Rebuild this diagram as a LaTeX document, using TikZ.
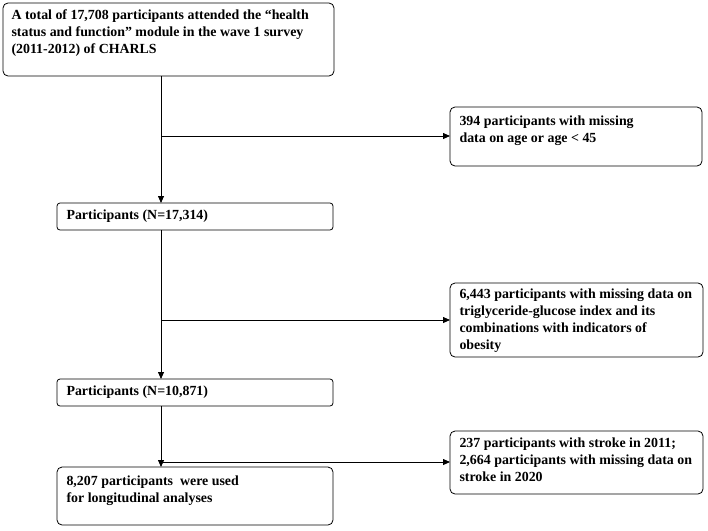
\documentclass[tikz,border=0pt]{standalone}
\usepackage{fontspec}
\setmainfont{Liberation Serif}
\usetikzlibrary{arrows.meta}
\begin{document}
\begin{tikzpicture}[x=1pt,y=-1pt,
  txt/.style={anchor=north west,align=left,font=\fontsize{13.9}{17}\selectfont\bfseries},
  bx/.style={thick,rounded corners=5pt},
  arr/.style={thick,-{Triangle[length=7pt,width=6pt]}}]
\useasboundingbox (0,0) rectangle (708,530);
\draw[bx] (3,3) rectangle (334,76);
\node[txt] (a) at (8,6) {A total of 17,708 participants attended the ``health\\status and function'' module in the wave 1 survey\\(2011-2012) of CHARLS};
\coordinate (A) at (161,76);
\draw[bx] (450,107) rectangle (702,166);
\node[txt] (b) at (456,112) {394 participants with missing\\data on age or age < 45};
\draw[bx,rounded corners=3pt] (57,203) rectangle (333,230);
\node[txt,anchor=west] (c) at (63,216.5) {Participants (N=17,314)};
\draw[bx] (450,283) rectangle (703,357);
\node[txt] (d) at (456,285) {6,443 participants with missing data on\\triglyceride-glucose index and its\\combinations with indicators of\\obesity};
\draw[bx,rounded corners=3pt] (57,379) rectangle (333,406);
\node[txt,anchor=west] (e) at (63,392.5) {Participants (N=10,871)};
\draw[bx] (450,431) rectangle (703,494);
\node[txt] (f) at (456,434) {237 participants with stroke in 2011;\\2,664 participants with missing data on\\stroke in 2020};
\draw[bx] (57,467) rectangle (333,525);
\node[txt] (g) at (63,472) {8,207 participants\ \ were used\\for longitudinal analyses};
\coordinate (C3) at (161,203);
\coordinate (C5) at (161,379);
\coordinate (C7) at (161,467);
\coordinate (C3b) at (161,230);
\coordinate (C5b) at (161,406);
\coordinate (B1) at (161,136);
\coordinate (B2) at (161,320);
\coordinate (B3) at (161,462);
\draw[arr] (A) -- (C3);
\draw[arr] (C3b) -- (C5);
\draw[arr] (C5b) -- (C7);
\draw[arr] (B1) -- (450,136);
\draw[arr] (B2) -- (450,320);
\draw[arr] (B3) -- (450,462);
\end{tikzpicture}
\end{document}
